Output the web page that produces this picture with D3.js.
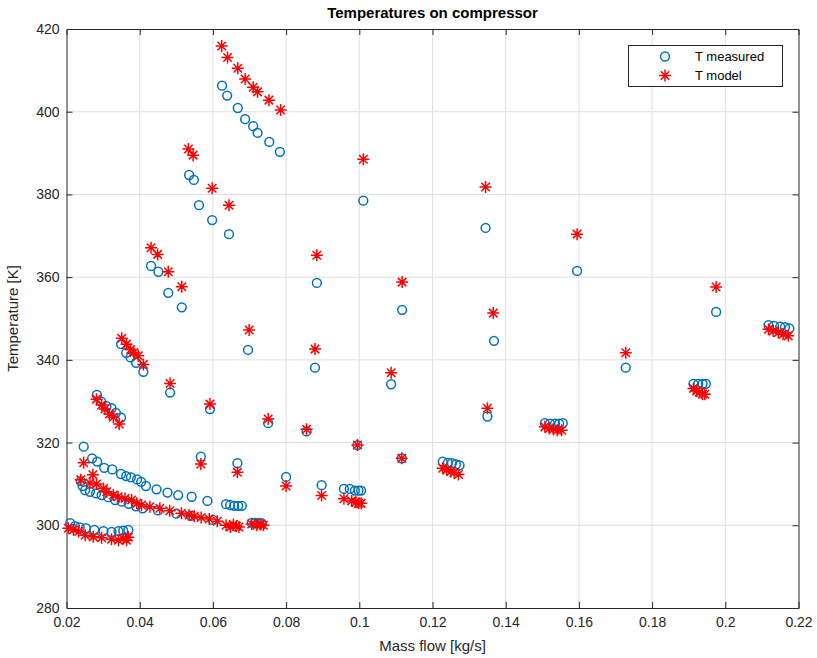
<!DOCTYPE html>
<html><head><meta charset="utf-8">
<script src="https://cdn.jsdelivr.net/npm/d3@7"></script>
<style>body{margin:0;background:#fff;} text{font-family:"Liberation Sans",Arial,Helvetica,sans-serif;}</style>
</head><body>
<svg id="c" width="817" height="658"></svg>
<script>
// Measured temperatures [mass flow kg/s, T K]
const measuredFlow = [
 0.0625,0.0639,0.0668,0.0688,0.0710,0.0722,0.0754,0.0783,
 0.0535,0.0548,0.0562,0.0598,0.0644,
 0.0431,0.0451,0.0478,0.0515,
 0.0349,0.0363,0.0375,0.0390,0.0410,0.0483,
 0.0283,0.0295,0.0309,0.0323,0.0335,0.0349,
 0.0696,0.1011,0.0884,0.1117,0.1345,0.1368,0.1595,0.1975,0.0879,0.1087,0.1350,0.1728,
 0.0592,0.0751,0.0856,0.0995,0.1116,0.0567,0.0667,0.0800,0.0897,
 0.0958,0.0974,0.0988,0.0998,0.1005,
 0.1228,0.1242,0.1253,0.1264,0.1274,
 0.1507,0.1521,0.1535,0.1546,0.1556,
 0.1913,0.1926,0.1938,0.1947,
 0.2118,0.2133,0.2150,0.2163,0.2175,
 0.0247,0.0270,0.0284,0.0303,0.0325,0.0349,0.0363,0.0376,0.0393,0.0404,0.0417,0.0446,0.0476,0.0505,0.0542,0.0585,0.0636,0.0647,0.0658,0.0669,0.0679,
 0.0239,0.0244,0.0251,0.0264,0.0281,0.0296,0.0314,0.0333,0.0351,0.0370,0.0390,0.0408,0.0450,0.0500,0.0540,0.0600,0.0706,0.0715,0.0724,0.0733,
 0.0210,0.0223,0.0236,0.0253,0.0276,0.0301,0.0323,0.0342,0.0355,0.0369
];
const measuredTemp = [
 406.3,403.9,400.9,398.2,396.5,394.9,392.7,390.3,
 384.7,383.5,377.4,373.8,370.4,
 362.7,361.3,356.2,352.7,
 343.8,341.7,340.6,339.3,337.1,332.1,
 331.5,329.9,328.8,328.3,327.2,326.0,
 342.4,378.5,358.6,352.1,371.9,344.6,361.5,351.6,338.1,334.1,326.3,338.1,
 328.1,324.7,322.7,319.4,316.2,316.6,315.0,311.7,309.7,
 308.8,308.8,308.4,308.4,308.4,
 315.4,315.1,315.0,314.7,314.5,
 324.7,324.6,324.6,324.6,324.7,
 334.2,334.2,334.2,334.2,
 348.4,348.2,348.0,347.9,347.6,
 319.0,316.2,315.4,313.9,313.5,312.4,311.9,311.6,311.1,310.5,309.5,308.7,307.9,307.3,306.9,305.9,305.1,304.9,304.7,304.7,304.7,
 310.7,309.5,308.5,308.1,307.7,307.3,306.8,306.1,305.7,305.2,304.6,304.1,303.6,302.8,302.3,301.3,300.6,300.6,300.6,300.5,
 300.5,299.8,299.5,299.3,298.9,298.6,298.4,298.6,298.7,298.9
];
// Model temperatures
const modelFlow = [
 0.0624,0.0640,0.0668,0.0688,0.0710,0.0722,0.0753,0.0785,
 0.0533,0.0546,0.0598,0.0644,
 0.0431,0.0449,0.0478,0.0515,
 0.0351,0.0364,0.0375,0.0384,0.0396,0.0410,0.0483,
 0.0282,0.0296,0.0305,0.0317,0.0328,0.0344,
 0.0699,0.1011,0.0884,0.1117,0.1345,0.1366,0.1595,0.1975,0.0879,0.1087,0.1350,0.1728,
 0.0592,0.0751,0.0856,0.0995,0.1116,0.0567,0.0667,0.0800,0.0897,
 0.0958,0.0979,0.0991,0.0998,0.1005,
 0.1228,0.1239,0.1250,0.1259,0.1271,
 0.1507,0.1519,0.1530,0.1541,0.1553,
 0.1913,0.1922,0.1929,0.1938,0.1944,
 0.2118,0.2131,0.2145,0.2158,0.2172,
 0.0247,0.0272,0.0239,0.0264,0.0282,0.0301,0.0310,0.0328,0.0341,0.0360,0.0378,0.0392,0.0405,0.0428,0.0455,0.0482,0.0514,0.0535,0.0549,0.0568,0.0590,0.0612,
 0.0636,0.0648,0.0656,0.0664,0.0671,0.0706,0.0720,0.0731,0.0738,
 0.0205,0.0219,0.0233,0.0251,0.0273,0.0296,0.0323,0.0342,0.0355,0.0364,0.0369
];
const modelTemp = [
 415.9,413.1,410.5,407.9,405.9,404.8,402.8,400.4,
 391.0,389.5,381.5,377.4,
 367.1,365.5,361.3,357.7,
 345.2,343.8,342.5,341.8,341.0,338.9,334.3,
 330.5,329.1,328.1,326.9,326.1,324.5,
 347.2,388.5,365.3,358.8,381.8,351.3,370.4,357.6,342.6,336.9,328.3,341.7,
 329.3,325.7,323.2,319.4,316.2,314.8,312.8,309.5,307.2,
 306.4,305.9,305.6,305.3,305.3,
 313.8,313.4,313.0,312.7,312.3,
 323.8,323.4,323.2,323.0,323.0,
 333.1,332.5,332.2,331.7,331.7,
 347.4,347.0,346.6,346.2,345.8,
 315.1,312.2,311.0,310.2,310.0,308.9,308.1,307.3,306.9,306.5,306.1,305.3,304.9,304.5,304.1,303.5,302.9,302.5,302.2,301.9,301.5,301.0,
 300.0,299.6,300.2,299.8,299.6,300.3,300.0,300.2,300.0,
 299.3,298.9,298.5,297.6,297.2,297.0,296.6,296.4,296.8,296.4,297.1
];
const xTicks = [0.02,0.04,0.06,0.08,0.1,0.12,0.14,0.16,0.18,0.2,0.22];
const yTicks = [280,300,320,340,360,380,400,420];
const seriesNames = ["T measured","T model"];
const titleText = "Temperatures on compressor";
const xLabel = "Mass flow [kg/s]";
const yLabel = "Temperature [K]";

const svg = d3.select("#c");
const L=66.5, R=798.5, T=29, B=608;
const x = d3.scaleLinear().domain([0.02,0.22]).range([L,R]);
const y = d3.scaleLinear().domain([280,420]).range([B,T]);
const axisCol = "#262626";

// grid
const g = svg.append("g");
g.selectAll(".vg").data(xTicks.slice(1,-1)).enter().append("line")
 .attr("x1",d=>x(d)).attr("x2",d=>x(d)).attr("y1",T).attr("y2",B)
 .attr("stroke","#dfdfdf").attr("stroke-width",1);
g.selectAll(".hg").data(yTicks.slice(1,-1)).enter().append("line")
 .attr("y1",d=>y(d)).attr("y2",d=>y(d)).attr("x1",L).attr("x2",R)
 .attr("stroke","#dfdfdf").attr("stroke-width",1);

// axes
const fmt = d=>String(d);
const axB = svg.append("g").attr("transform",`translate(0,${B})`)
 .call(d3.axisBottom(x).tickValues(xTicks).tickSize(-6).tickPadding(9).tickFormat(fmt));
const axT = svg.append("g").attr("transform",`translate(0,${T})`)
 .call(d3.axisTop(x).tickValues(xTicks).tickSize(-6).tickFormat(""));
const axL = svg.append("g").attr("transform",`translate(${L},0)`)
 .call(d3.axisLeft(y).tickValues(yTicks).tickSize(-6).tickPadding(7).tickFormat(fmt));
const axR = svg.append("g").attr("transform",`translate(${R},0)`)
 .call(d3.axisRight(y).tickValues(yTicks).tickSize(-6).tickFormat(""));
[axB,axT,axL,axR].forEach(a=>{
  a.select(".domain").attr("stroke",axisCol).attr("stroke-width",1);
  a.selectAll(".tick line").attr("stroke",axisCol).attr("stroke-width",1);
  a.selectAll("text").attr("fill",axisCol).style("font-size","14px")
   .style("font-family","'Liberation Sans',Arial,sans-serif");
});
axB.selectAll(".tick line").filter(d=>d===0.02||d===0.22).remove();
axT.selectAll(".tick line").filter(d=>d===0.02||d===0.22).remove();
axL.selectAll(".tick line").filter(d=>d===280||d===420).remove();
axR.selectAll(".tick line").filter(d=>d===280||d===420).remove();

// markers
const starPath = (cx,cy,s)=>{
  const d=s*0.7071;
  return `M${cx-s},${cy}L${cx+s},${cy}M${cx},${cy-s}L${cx},${cy+s}`+
         `M${cx-d},${cy-d}L${cx+d},${cy+d}M${cx-d},${cy+d}L${cx+d},${cy-d}`;
};
const meas = measuredFlow.map((f,i)=>({f,t:measuredTemp[i]}));
const model = modelFlow.map((f,i)=>({f,t:modelTemp[i]}));
svg.append("g").selectAll("circle").data(meas).enter().append("circle")
 .attr("cx",d=>x(d.f)).attr("cy",d=>y(d.t)).attr("r",4.4)
 .attr("fill","none").attr("stroke","#0072BD").attr("stroke-width",1.5);
svg.append("g").selectAll("path").data(model).enter().append("path")
 .attr("d",d=>starPath(x(d.f),y(d.t),6))
 .attr("stroke","#FF0000").attr("stroke-width",1.5).attr("fill","none");

// title & labels
svg.append("text").attr("x",(L+R)/2).attr("y",18).attr("text-anchor","middle")
 .style("font-size","15px").style("font-weight","bold").attr("fill","#000").text(titleText);
svg.append("text").attr("x",(L+R)/2).attr("y",651).attr("text-anchor","middle")
 .style("font-size","15px").attr("fill",axisCol).text(xLabel);
svg.append("text").attr("transform",`translate(18,${(T+B)/2}) rotate(-90)`).attr("text-anchor","middle")
 .style("font-size","15px").attr("fill",axisCol).text(yLabel);

// legend
const lg = svg.append("g");
lg.append("rect").attr("x",628.5).attr("y",45.5).attr("width",154).attr("height",41)
 .attr("fill","#fff").attr("stroke",axisCol).attr("stroke-width",1);
lg.append("circle").attr("cx",665).attr("cy",56.5).attr("r",4.4)
 .attr("fill","none").attr("stroke","#0072BD").attr("stroke-width",1.5);
lg.append("path").attr("d",starPath(665,75.5,6)).attr("stroke","#FF0000").attr("stroke-width",1.5);
lg.append("text").attr("x",695).attr("y",61).style("font-size","13px").attr("fill","#000").text(seriesNames[0]);
lg.append("text").attr("x",695).attr("y",80).style("font-size","13px").attr("fill","#000").text(seriesNames[1]);
</script>
</body></html>
